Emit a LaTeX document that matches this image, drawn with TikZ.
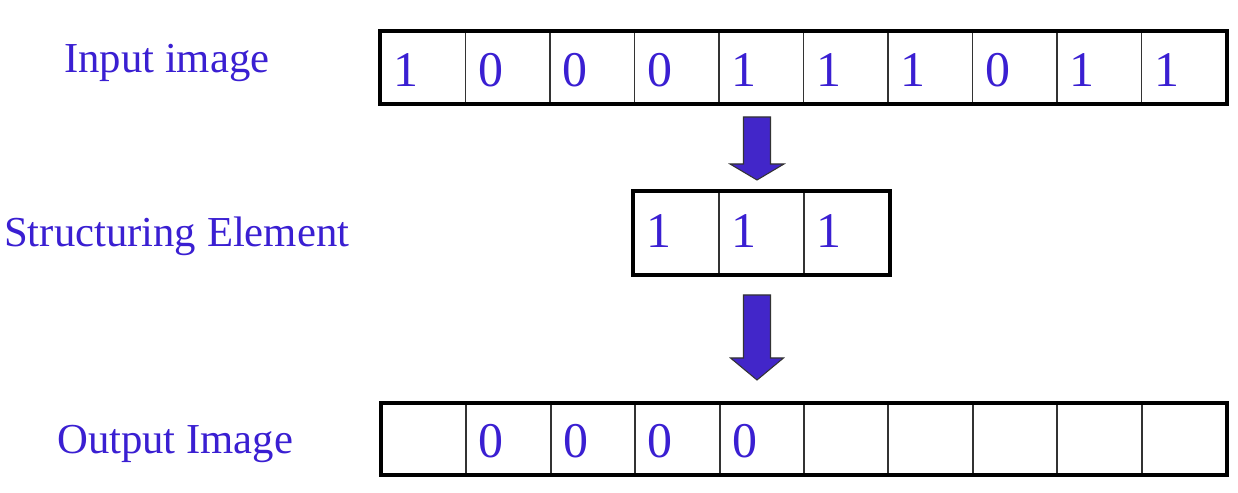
\documentclass[tikz,border=0pt]{standalone}
\usepackage{fontspec}
\setmainfont{Liberation Serif}
\usetikzlibrary{calc}
\definecolor{txtblue}{HTML}{3A1FD2}
\definecolor{arrowfill}{HTML}{4226C9}
\definecolor{grid}{HTML}{333333}

\begin{document}
\begin{tikzpicture}[
  x=0.02cm,y=-0.02cm,
  cell/.style={draw=grid,line width=1.1pt,minimum width=1.69cm,minimum height=1.42cm,inner sep=0pt},
  secell/.style={cell,minimum width=1.70cm,minimum height=1.64cm},
  frame/.style={draw=black,line width=2.3pt},
  digit/.style={anchor=base,text=txtblue,font=\fontsize{28.4pt}{30pt}\selectfont},
  lab/.style={anchor=base west,text=txtblue,font=\fontsize{24.3pt}{26pt}\selectfont},
  fatarrow/.style={fill=arrowfill,draw=grid,line width=0.6pt,line join=miter}
]
\useasboundingbox[fill=white] (0,0) rectangle (1238,493);

% input row
\foreach \i/\v in {1/1,2/0,3/0,4/0,5/1,6/1,7/1,8/0,9/1,10/1}{
  \node[cell] (in\i) at ({381+84.5*(\i-0.5)},67.5) {};
  \node[digit] (inv\i) at ($(in\i.north west)+(26,55)$) {\v};
}
\draw[frame] (in1.north west) rectangle (in10.south east);

% structuring element
\foreach \i in {1,2,3}{
  \node[secell] (se\i) at ({634+85*(\i-0.5)},233) {};
  \node[digit] (sev\i) at ($(se\i.north west)+(26,56)$) {1};
}
\draw[frame] (se1.north west) rectangle (se3.south east);

% output row
\foreach \i in {1,...,10}{
  \node[cell] (out\i) at ({382+84.4*(\i-0.5)},439) {};
}
\foreach \i in {2,3,4,5}{
  \node[digit] (outv\i) at ($(out\i.north west)+(26,55)$) {0};
}
\draw[frame] (out1.north west) rectangle (out10.south east);

% labels
\node[lab] (lblin) at (58,73) {Input image};
\node[lab] (lblse) at (-2,247) {Structuring Element};
\node[lab] (lblout) at (51,453) {Output Image};

% block arrows
\coordinate (tipA) at (757,180);
\coordinate (tipB) at (757,380);
\draw[fatarrow] (tipA) -- ++(-27,-16) -- ++(13.5,0) -- ++(0,-47) -- ++(27,0)
  -- ++(0,47) -- ++(13.5,0) -- cycle;
\draw[fatarrow] (tipB) -- ++(-26.5,-22) -- ++(13,0) -- ++(0,-63) -- ++(27,0)
  -- ++(0,63) -- ++(13,0) -- cycle;
\end{tikzpicture}
\end{document}
